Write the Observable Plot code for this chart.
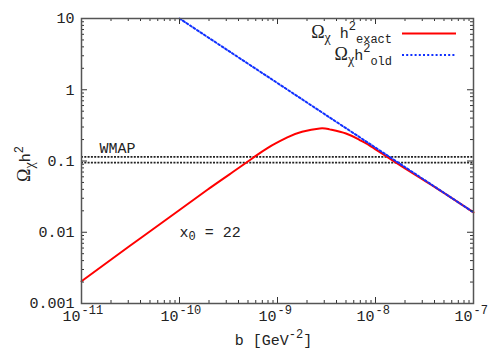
<!DOCTYPE html>
<html><head><meta charset="utf-8">
<script src="https://cdn.jsdelivr.net/npm/d3@7"></script>
<script src="https://cdn.jsdelivr.net/npm/@observablehq/plot@0.6"></script>
<style>body{margin:0;background:#fff}</style>
</head><body><div id="chart"></div>
<script>
// ---- data ----
const redB = [1e-11, 3e-11, 1e-10, 2e-10, 3.5e-10, 5.6e-10, 7.9e-10, 1.26e-9, 1.78e-9, 2.7e-9, 3.4e-9, 5e-9, 6.9e-9, 8.1e-9, 1e-8, 1.4e-8, 2e-8, 4.5e-8, 1e-7];
const redV = [0.00205, 0.0062, 0.0205, 0.041, 0.070, 0.110, 0.152, 0.214, 0.257, 0.286, 0.278, 0.243, 0.197, 0.176, 0.146, 0.108, 0.079, 0.039, 0.019];
const oldB = [1e-10, 3e-10, 1e-9, 3e-9, 1e-8, 3e-8, 1e-7];
const oldV = [10, 3.69, 1.24, 0.458, 0.154, 0.0568, 0.019];
const wmapBand = [0.095, 0.114];
const xMajor = [1e-11, 1e-10, 1e-9, 1e-8, 1e-7];
const xExp = ["-11", "-10", "-9", "-8", "-7"];
const yMajor = [0.001, 0.01, 0.1, 1, 10];
const yTickLabels = ["0.001", "0.01", "0.1", "1", "10"];

const red = redB.map((b, i) => ({b, v: redV[i]}));
const old = oldB.map((b, i) => ({b, v: oldV[i]}));
const minorOf = (majors) => majors.slice(0, -1).flatMap(m => [2,3,4,5,6,7,8,9].map(k => m * k));
const xMinor = minorOf(xMajor);
const yMinor = minorOf(yMajor);

const W = 500, H = 350, mL = 81, mR = 27, mT = 18, mB = 47;
const fH = H - mT - mB, fW = W - mL - mR;
const mono = "'Liberation Mono', 'DejaVu Sans Mono', monospace";
const serif = "'Liberation Serif', 'DejaVu Serif', serif";
const tickC = "#333";
const blue = "#1030ff";

const plot = Plot.plot({
  width: W, height: H,
  marginLeft: mL, marginRight: mR, marginTop: mT, marginBottom: mB,
  x: {type: "log", domain: [1e-11, 1e-7], axis: null},
  y: {type: "log", domain: [1e-3, 10], axis: null},
  style: {fontFamily: mono, background: "white"},
  marks: [
    Plot.ruleY(wmapBand, {stroke: "#222", strokeWidth: 1.7, strokeDasharray: "2,1.3"}),
    Plot.line(red, {x: "b", y: "v", stroke: "#ff0000", strokeWidth: 2, curve: "natural"}),
    Plot.line(old, {x: "b", y: "v", stroke: blue, strokeWidth: 2, strokeDasharray: "2,2.2", curve: "catmull-rom"}),
    // ticks (inward, mirrored)
    Plot.tickX(xMajor, {x: d => d, insetTop: fH - 6, stroke: tickC}),
    Plot.tickX(xMajor, {x: d => d, insetBottom: fH - 6, stroke: tickC}),
    Plot.tickX(xMinor, {x: d => d, insetTop: fH - 3, stroke: tickC}),
    Plot.tickX(xMinor, {x: d => d, insetBottom: fH - 3, stroke: tickC}),
    Plot.tickY(yMajor, {y: d => d, insetRight: fW - 6, stroke: tickC}),
    Plot.tickY(yMajor, {y: d => d, insetLeft: fW - 6, stroke: tickC}),
    Plot.tickY(yMinor, {y: d => d, insetRight: fW - 3, stroke: tickC}),
    Plot.tickY(yMinor, {y: d => d, insetLeft: fW - 3, stroke: tickC}),
    Plot.frame({stroke: "#555", strokeWidth: 1.5}),
    // tick labels
    Plot.text(yMajor, {y: d => d, frameAnchor: "left", dx: -7, textAnchor: "end", text: (d, i) => yTickLabels[i], fontSize: 15, fill: "#222"}),
    Plot.text(xMajor, {x: d => d, frameAnchor: "bottom", dx: -1, dy: 17, textAnchor: "end", text: () => "10", fontSize: 15, fill: "#222"}),
    Plot.text(xMajor, {x: d => d, frameAnchor: "bottom", dx: 0, dy: 10, textAnchor: "start", text: (d, i) => xExp[i], fontSize: 12, fill: "#222"}),
    // annotations
    Plot.text([{b: 1.53e-11, v: 0.15}], {x: "b", y: "v", text: () => "WMAP", textAnchor: "start", fontSize: 15, fill: "#222"}),
    Plot.text([{b: 1e-10, v: 0.01}], {x: "b", y: "v", text: () => "x", textAnchor: "start", fontSize: 15, fill: "#222"}),
    Plot.text([{b: 1e-10, v: 0.01}], {x: "b", y: "v", text: () => "0", textAnchor: "start", dx: 9, dy: 4.3, fontSize: 12, fill: "#222"}),
    Plot.text([{b: 1e-10, v: 0.01}], {x: "b", y: "v", text: () => "= 22", textAnchor: "start", dx: 25.2, fontSize: 15, fill: "#222"})
  ]
});
document.getElementById("chart").appendChild(plot);

// rich text (sub/superscripts) for axis titles and legend
const svg = d3.select(plot);
function rich(x, y, parts, anchor, rotate) {
  const t = svg.append("text").attr("x", x).attr("y", y).attr("text-anchor", anchor)
    .attr("font-family", mono).attr("font-size", 15).attr("fill", "#222");
  if (rotate) t.attr("transform", `rotate(-90 ${x} ${y})`);
  let cur = 0;
  for (const p of parts) {
    const shift = p.s || 0;
    t.append("tspan").attr("dy", shift - cur).attr("font-size", p.z || 15)
      .attr("font-family", p.f || mono).text(p.t);
    cur = shift;
  }
  return t;
}
// x label
rich(273.5, 344.5, [{t: "b [GeV"}, {t: "-2", z: 12, s: -7}, {t: "]"}], "middle");
// y label
rich(30, 164, [{t: "\u03A9", f: serif, z: 18}, {t: "\u03C7", f: serif, z: 14, s: 4}, {t: "h"}, {t: "2", z: 12, s: -7}], "middle", true);
// legend
rich(392, 38, [{t: "\u03A9", f: serif, z: 18}, {t: "\u03C7", f: serif, z: 14, s: 4}, {t: "\u00A0h"}, {t: "2", z: 12, s: -8}, {t: "exact", z: 12, s: 5}], "end");
rich(392, 60, [{t: "\u03A9", f: serif, z: 18}, {t: "\u03C7", f: serif, z: 14, s: 4}, {t: "h"}, {t: "2", z: 12, s: -8}, {t: "old", z: 12, s: 5}], "end");
svg.append("line").attr("x1", 402).attr("x2", 456).attr("y1", 33.5).attr("y2", 33.5)
  .attr("stroke", "#ff0000").attr("stroke-width", 2);
svg.append("line").attr("x1", 402).attr("x2", 456).attr("y1", 55).attr("y2", 55)
  .attr("stroke", blue).attr("stroke-width", 2).attr("stroke-dasharray", "2,2.2");
</script>
</body></html>
